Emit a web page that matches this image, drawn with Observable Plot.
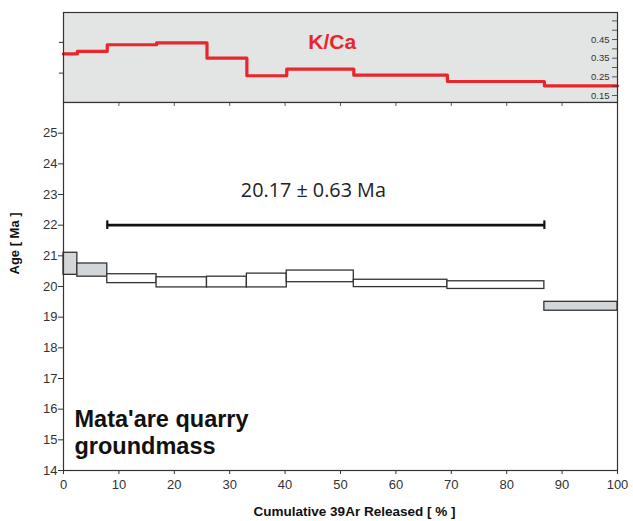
<!DOCTYPE html>
<html><head><meta charset="utf-8">
<script src="https://cdn.jsdelivr.net/npm/d3@7"></script>
<script src="https://cdn.jsdelivr.net/npm/@observablehq/plot@0.6"></script>
<style>
body{margin:0;background:#fff;}
#wrap{position:relative;width:633px;height:521px;overflow:hidden;}
#topPanel,#mainPanel{position:absolute;left:0;}
#topPanel{top:0px}
#mainPanel{top:95px}
</style></head><body>
<div id="wrap"><div id="topPanel"></div><div id="mainPanel"></div></div>
<script>
// ---- data ----
const stepEdges = [0, 2.5, 7.9, 16.8, 25.9, 33.1, 40.3, 52.4, 69.3, 86.8, 100]; // cumulative 39Ar %
const ageLow    = [20.38, 20.32, 20.11, 19.97, 19.97, 19.97, 20.14, 19.98, 19.92, 19.21];
const ageHigh   = [21.10, 20.75, 20.40, 20.30, 20.32, 20.42, 20.52, 20.22, 20.17, 19.50];
const inPlateau = [false, false, true, true, true, true, true, true, true, false];
const kcaValues = [0.373, 0.387, 0.422, 0.432, 0.350, 0.256, 0.291, 0.259, 0.225, 0.202];

const plateauStart = 7.9, plateauEnd = 86.8, plateauBarAge = 22.0;
const plateauLabel = "20.17 \u00B1 0.63 Ma";
const plateauLabelPos = {x: 45.1, y: 23.13};
const sampleLabel = "Mata'are quarry\ngroundmass";
const kcaLabel = "K/Ca";
const kcaLabelPos = {x: 48.5, y: 0.434};

const xTicks = [0, 10, 20, 30, 40, 50, 60, 70, 80, 90, 100];
const yTicks = [14, 15, 16, 17, 18, 19, 20, 21, 22, 23, 24, 25];
const kcaTicks = [0.15, 0.25, 0.35, 0.45];
const kcaMinorTicks = [0.15, 0.2, 0.25, 0.3, 0.35, 0.4, 0.45, 0.5, 0.55];
const kcaLeftTicks = [0.27, 0.435];
const xLabel = "Cumulative 39Ar Released [ % ]";
const yLabel = "Age [ Ma ]";

// ---- tables built from the arrays ----
const steps = ageLow.map((lo, i) => ({x1: stepEdges[i], x2: stepEdges[i + 1], lo, hi: ageHigh[i], inPlateau: inPlateau[i]}));
const kcaPoints = kcaValues.map((v, i) => ({x: stepEdges[i], y: v}));
kcaPoints.push({x: stepEdges[stepEdges.length - 1], y: kcaValues[kcaValues.length - 1]});

const FONT = "'Liberation Sans', Arial, sans-serif";
const AX = "#333";

const topChart = Plot.plot({
  width: 633, height: 103,
  marginTop: 12, marginBottom: 1, marginLeft: 63, marginRight: 16,
  style: {fontFamily: FONT, color: AX, background: "transparent"},
  x: {domain: [0, 100], axis: null},
  y: {domain: [0.1125, 0.595]},
  marks: [
    Plot.frame({fill: "#e3e5e5", stroke: null}),
    Plot.line(kcaPoints, {x: "x", y: "y", curve: "step-after", stroke: "#e8262b", strokeWidth: 3.2}),
    Plot.text([kcaLabel], {x: () => kcaLabelPos.x, y: () => kcaLabelPos.y, text: d => d, fill: "#e8262b", fontWeight: "bold", fontSize: 21, fontFamily: FONT}),
    Plot.gridY({ticks: kcaMinorTicks, x1: 99.1, x2: 100, stroke: AX, strokeOpacity: 1, strokeWidth: 0.8}),
    Plot.axisY({anchor: "right", ticks: kcaTicks, tickSize: 0, tickPadding: 0, dx: -8, textAnchor: "end", tickFormat: d => d.toFixed(2), fontSize: 9.5, label: null}),
    Plot.gridY({ticks: kcaLeftTicks, x1: -0.75, x2: 0, stroke: AX, strokeOpacity: 1, strokeWidth: 1}),
    Plot.frame({stroke: AX, strokeWidth: 1.2})
  ]
});
document.getElementById("topPanel").appendChild(topChart);

const mainChart = Plot.plot({
  width: 633, height: 426,
  marginTop: 7, marginBottom: 51, marginLeft: 63, marginRight: 16,
  style: {fontFamily: FONT, color: AX, background: "transparent", fontSize: "13px"},
  x: {domain: [0, 100]},
  y: {domain: [14, 26]},
  marks: [
    Plot.rect(steps, {x1: "x1", x2: "x2", y1: "lo", y2: "hi", fill: d => d.inPlateau ? "#ffffff" : "#d3d6d9", stroke: "#333", strokeWidth: 1.3}),
    Plot.ruleY([plateauBarAge], {x1: plateauStart, x2: plateauEnd, stroke: "#111", strokeWidth: 2.6}),
    Plot.ruleX([plateauStart, plateauEnd], {x: d => d, y1: plateauBarAge - 0.14, y2: plateauBarAge + 0.14, stroke: "#111", strokeWidth: 2.2}),
    Plot.text([plateauLabel], {x: () => plateauLabelPos.x, y: () => plateauLabelPos.y, text: d => d, fontFamily: "'Open Sans', sans-serif", fontSize: 19.8, fill: "#222"}),
    Plot.text([sampleLabel], {frameAnchor: "bottom-left", textAnchor: "start", lineAnchor: "middle", dx: 11, dy: -39, text: d => d, fontSize: 23.5, fontWeight: "bold", fill: "#111", lineHeight: 1.15}),
    Plot.axisX({anchor: "bottom", ticks: xTicks, tickSize: 4, tickPadding: 5, fontSize: 13, label: null}),
    Plot.gridX({ticks: xTicks.slice(1, -1), y1: 26, y2: 25.87, stroke: AX, strokeOpacity: 1, strokeWidth: 0.8}),
    Plot.axisY({anchor: "left", ticks: yTicks, tickSize: 5, tickPadding: 1, fontSize: 13, label: null}),
    Plot.text([xLabel], {frameAnchor: "bottom", dy: 45, dx: 14, text: d => d, fontWeight: "bold", fontSize: 13.5, fill: "#111"}),
    Plot.text([yLabel], {frameAnchor: "left", rotate: -90, dx: -49, dy: -12, text: d => d, fontWeight: "bold", fontSize: 13, fill: "#111"}),
    Plot.frame({stroke: AX, strokeWidth: 1.2})
  ]
});
document.getElementById("mainPanel").appendChild(mainChart);
</script>
</body></html>
